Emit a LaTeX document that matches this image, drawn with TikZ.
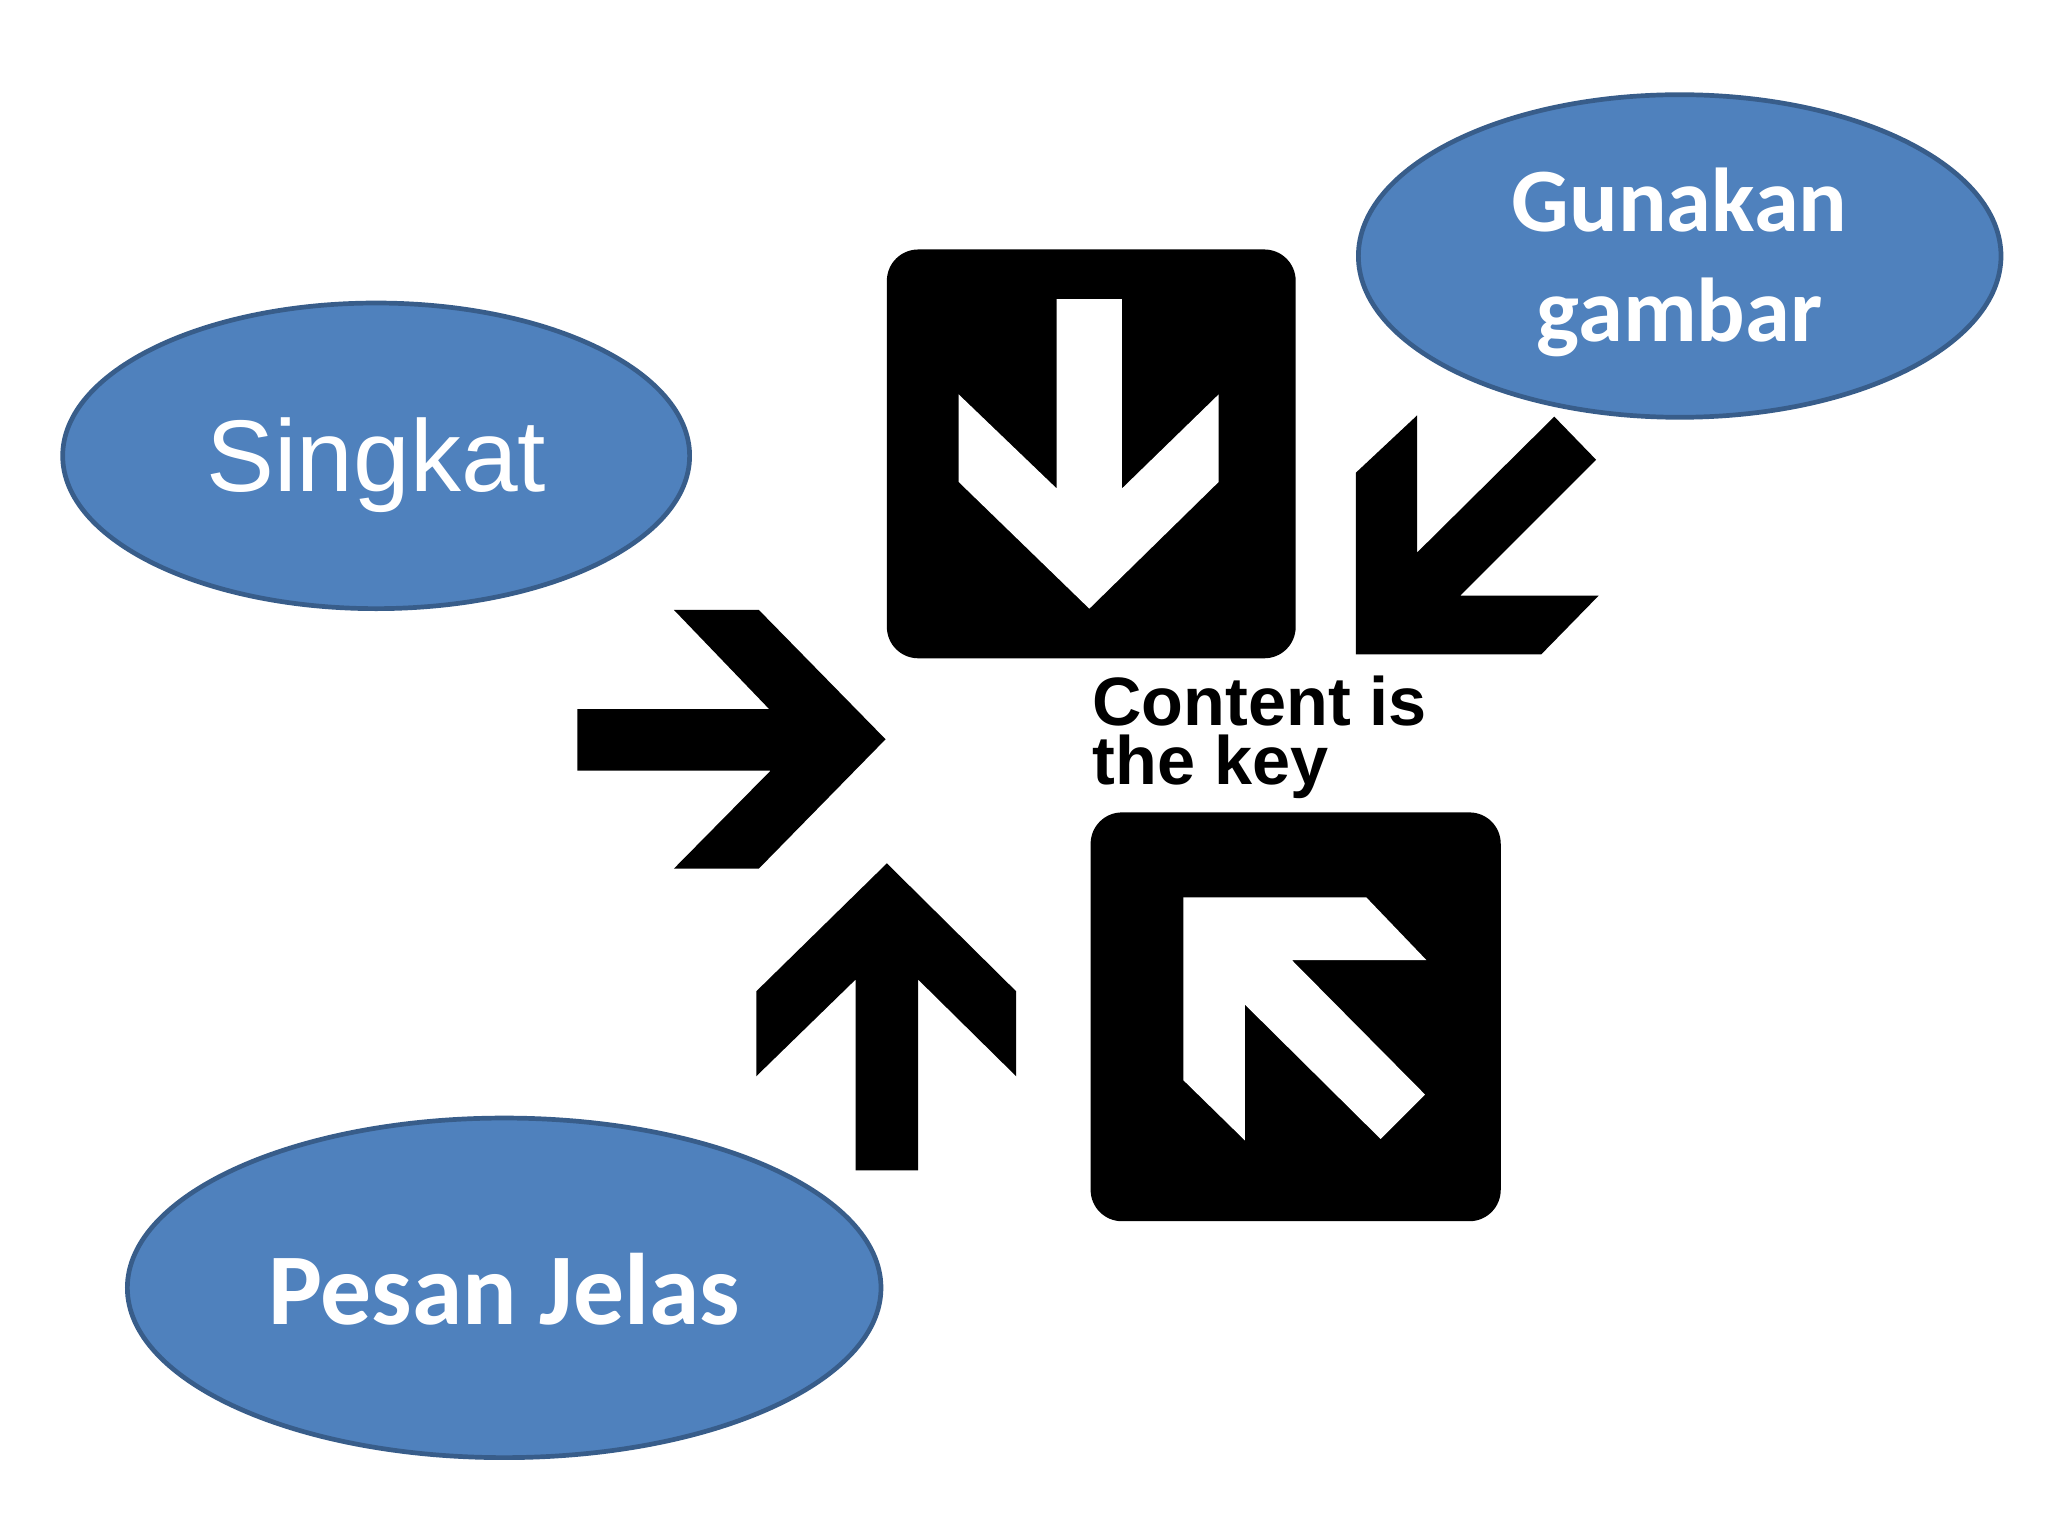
\documentclass[tikz,border=0pt]{standalone}
\usepackage{fontspec}
\setmainfont{Carlito}
\newfontfamily\arialf{Liberation Sans}
\usetikzlibrary{shapes.geometric}
\definecolor{bub}{HTML}{4F81BD}
\definecolor{bubline}{HTML}{385D8A}
\tikzset{
 bubble/.style={ellipse,fill=bub,draw=bubline,line width=1.8pt,inner sep=0pt},
 bubtext/.style={text=white,align=center},
 blk/.style={fill=black,draw=none},
 wht/.style={fill=white,draw=none},
 sq/.style={fill=black,draw=none,rounded corners=12pt}
}
\begin{document}
\begin{tikzpicture}[x=0.5pt,y=-0.5pt]
\useasboundingbox (0,0) rectangle (1568,1176);
\fill[white] (0,0) rectangle (1568,1176);
% top square
\fill[sq] (679,191) rectangle (992,504);
\fill[wht] (809,229)--(859,229)--(859,374)--(933,302)--(933,369)--(834,466)--(734,369)--(734,302)--(809,374)--cycle;
% bottom square
\fill[sq] (835,622) rectangle (1149,935);
\fill[wht] (906,687)--(1046,687)--(1092,735)--(989,735)--(1091,838)--(1057,872)--(953,769)--(953,873)--(906,827)--cycle;
% free arrows
\fill[blk] (1190,319)--(1222,352)--(1118,456)--(1224,456)--(1180,501)--(1038,501)--(1038,362)--(1085,318)--(1085,423)--cycle;
\fill[blk] (442,543)--(589,543)--(516,467)--(581,467)--(678,566)--(581,665)--(516,665)--(590,590)--(442,590)--cycle;
\fill[blk] (655,896)--(655,750)--(579,824)--(579,759)--(679,661)--(778,759)--(778,824)--(703,750)--(703,896)--cycle;
% text
\node[font=\arialf\bfseries\fontsize{26.2}{22.5}\selectfont,align=left,anchor=north west,inner sep=0pt] (key) at (836,517) {Content is\\the key};
% bubbles
\node[bubble,minimum width=246pt,minimum height=123.5pt] (gb) at (1286,196) {};
\node[bubtext,font=\bfseries\fontsize{34.7}{42}\selectfont] (gbt) at (1286,201) {Gunakan\\gambar};
\node[bubble,minimum width=240pt,minimum height=117pt] (si) at (288,349) {};
\node[bubtext,font=\arialf\fontsize{39}{44}\selectfont] (sit) at (288,356) {Singkat};
\node[bubble,minimum width=288.5pt,minimum height=130pt] (pj) at (386,986) {};
\node[bubtext,font=\bfseries\fontsize{38.9}{42}\selectfont] (pjt) at (386,987) {Pesan Jelas};
\end{tikzpicture}
\end{document}
